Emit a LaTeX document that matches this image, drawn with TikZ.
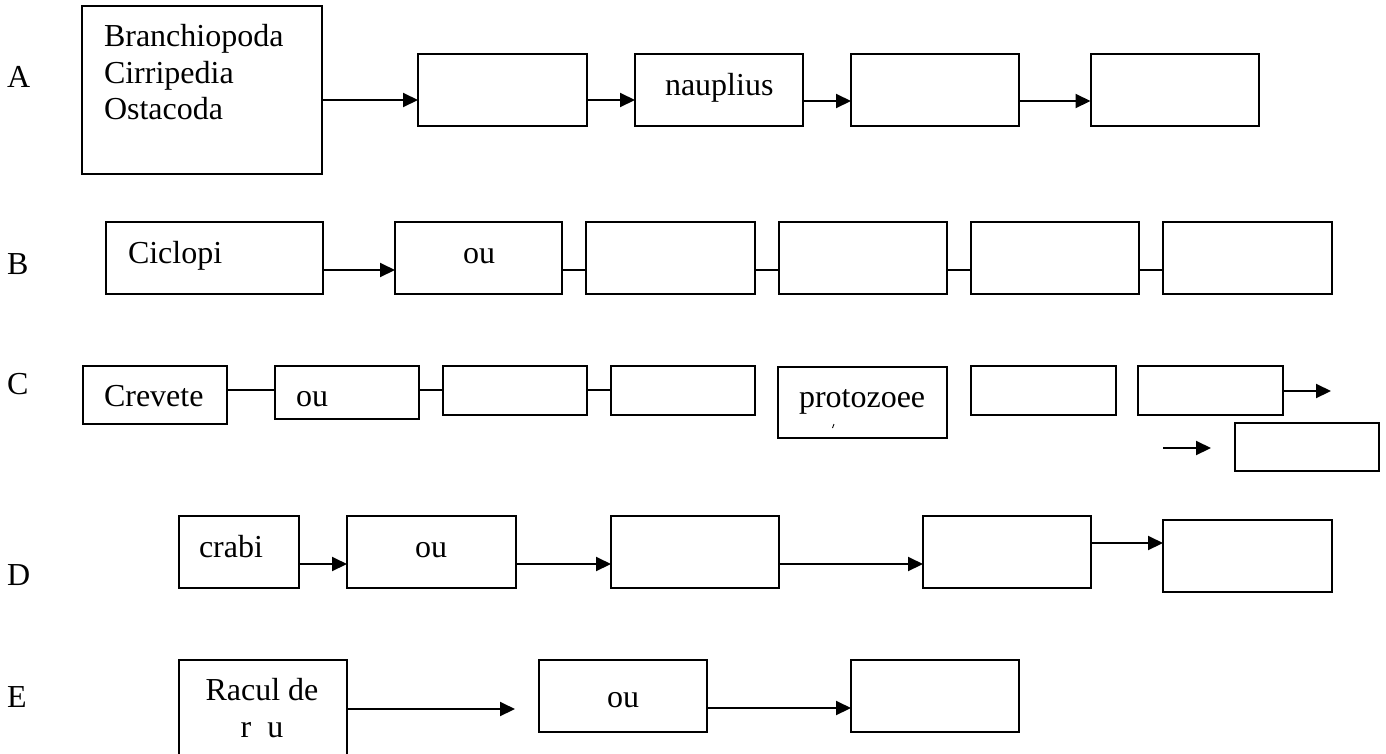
\documentclass[tikz,border=0pt]{standalone}
\usepackage{fontspec}
\setmainfont{Liberation Serif}
\usetikzlibrary{arrows.meta}
\begin{document}
\begin{tikzpicture}[x=1pt,y=-1pt,
  box/.style={draw=black,line width=2pt,rectangle,inner sep=0pt,outer sep=0pt},
  lbl/.style={inner sep=0pt,outer sep=0pt,font=\fontsize{32}{37}\selectfont},
  link/.style={line width=2pt},
  arr/.style={line width=2pt,-{Triangle[length=15pt,width=14pt]}}]
\useasboundingbox (0,0) rectangle (1386,753);
\clip (0,0) rectangle (1386,753);

% row labels
\node[lbl,anchor=base west] (la) at (7,87) {A};
\node[lbl,anchor=base west] (lb) at (7,274) {B};
\node[lbl,anchor=base west] (lc) at (7,394) {C};
\node[lbl,anchor=base west] (ld) at (7,585) {D};
\node[lbl,anchor=base west] (le) at (7,707) {E};

% ---- row A
\node[box,minimum width=240pt,minimum height=168pt] (a1) at (202,90) {};
\node[box,minimum width=169pt,minimum height=72pt] (a2) at (502.5,90) {};
\node[box,minimum width=168pt,minimum height=72pt] (a3) at (719,90) {};
\node[box,minimum width=168pt,minimum height=72pt] (a4) at (935,90) {};
\node[box,minimum width=168pt,minimum height=72pt] (a5) at (1174.5,90) {};
\node[lbl,anchor=base west] (ta1) at (104,46) {Branchiopoda};
\node[lbl,anchor=base west] (ta2) at (104,83) {Cirripedia};
\node[lbl,anchor=base west] (ta3) at (104,119) {Ostacoda};
\node[lbl,anchor=base west] (ta4) at (665,95) {nauplius};
\draw[arr] (a1.east |- 0,100) -- (a2.west |- 0,100);
\draw[arr] (a2.east |- 0,100) -- (a3.west |- 0,100);
\draw[arr] (a3.east |- 0,101) -- (a4.west |- 0,101);
\draw[arr] (a4.east |- 0,101) -- (a5.west |- 0,101);

% ---- row B
\node[box,minimum width=217pt,minimum height=72pt] (b1) at (214.5,258) {};
\node[box,minimum width=167pt,minimum height=72pt] (b2) at (478.5,258) {};
\node[box,minimum width=169pt,minimum height=72pt] (b3) at (670.5,258) {};
\node[box,minimum width=168pt,minimum height=72pt] (b4) at (863,258) {};
\node[box,minimum width=168pt,minimum height=72pt] (b5) at (1055,258) {};
\node[box,minimum width=169pt,minimum height=72pt] (b6) at (1247.5,258) {};
\node[lbl,anchor=base west] (tb1) at (128,263) {Ciclopi};
\node[lbl,anchor=base] (tb2) at (479,263) {ou};
\draw[arr] (b1.east |- 0,270) -- (b2.west |- 0,270);
\draw[link] (b2.east |- 0,270) -- (b3.west |- 0,270);
\draw[link] (b3.east |- 0,270) -- (b4.west |- 0,270);
\draw[link] (b4.east |- 0,270) -- (b5.west |- 0,270);
\draw[link] (b5.east |- 0,270) -- (b6.west |- 0,270);

% ---- row C
\node[box,minimum width=144pt,minimum height=58pt] (c1) at (155,395) {};
\node[box,minimum width=144pt,minimum height=53pt] (c2) at (347,392.5) {};
\node[box,minimum width=144pt,minimum height=49pt] (c3) at (515,390.5) {};
\node[box,minimum width=144pt,minimum height=49pt] (c4) at (683,390.5) {};
\node[box,minimum width=169pt,minimum height=71pt] (c5) at (862.5,402.5) {};
\node[box,minimum width=145pt,minimum height=49pt] (c6) at (1043.5,390.5) {};
\node[box,minimum width=145pt,minimum height=49pt] (c7) at (1210.5,390.5) {};
\node[box,minimum width=144pt,minimum height=48pt] (c8) at (1307,447) {};
\node[lbl,anchor=base west] (tc1) at (104,406) {Crevete};
\node[lbl,anchor=base west] (tc2) at (296,406) {ou};
\node[lbl,anchor=base west] (tc5) at (799,407) {protozoee};
\draw[line width=0.9pt] (832.5,428) -- (834,424);
\draw[link] (c1.east |- 0,390) -- (c2.west |- 0,390);
\draw[link] (c2.east |- 0,390) -- (c3.west |- 0,390);
\draw[link] (c3.east |- 0,390) -- (c4.west |- 0,390);
\coordinate (c7end) at (1331,391);
\draw[arr] (c7.east |- c7end) -- (c7end);
\coordinate (c8from) at (1163,448);
\coordinate (c8to) at (1211,448);
\draw[arr] (c8from) -- (c8to);

% ---- row D
\node[box,minimum width=120pt,minimum height=72pt] (d1) at (239,552) {};
\node[box,minimum width=169pt,minimum height=72pt] (d2) at (431.5,552) {};
\node[box,minimum width=168pt,minimum height=72pt] (d3) at (695,552) {};
\node[box,minimum width=168pt,minimum height=72pt] (d4) at (1007,552) {};
\node[box,minimum width=169pt,minimum height=72pt] (d5) at (1247.5,556) {};
\node[lbl,anchor=base west] (td1) at (199,557) {crabi};
\node[lbl,anchor=base] (td2) at (431,557) {ou};
\draw[arr] (d1.east |- 0,564) -- (d2.west |- 0,564);
\draw[arr] (d2.east |- 0,564) -- (d3.west |- 0,564);
\draw[arr] (d3.east |- 0,564) -- (d4.west |- 0,564);
\draw[arr] (d4.east |- 0,543) -- (d5.west |- 0,543);

% ---- row E
\node[box,minimum width=168pt,minimum height=140pt] (e1) at (263,730) {};
\node[box,minimum width=168pt,minimum height=72pt] (e2) at (623,696) {};
\node[box,minimum width=168pt,minimum height=72pt] (e3) at (935,696) {};
\node[lbl,anchor=base] (te1) at (262,700) {Racul de};
\node[lbl,anchor=base] (te2) at (262,737) {r\hspace{0.5em}u};
\node[lbl,anchor=base] (te3) at (623,707) {ou};
\coordinate (e1end) at (515,709);
\draw[arr] (e1.east |- e1end) -- (e1end);
\draw[arr] (e2.east |- 0,708) -- (e3.west |- 0,708);
\end{tikzpicture}
\end{document}
